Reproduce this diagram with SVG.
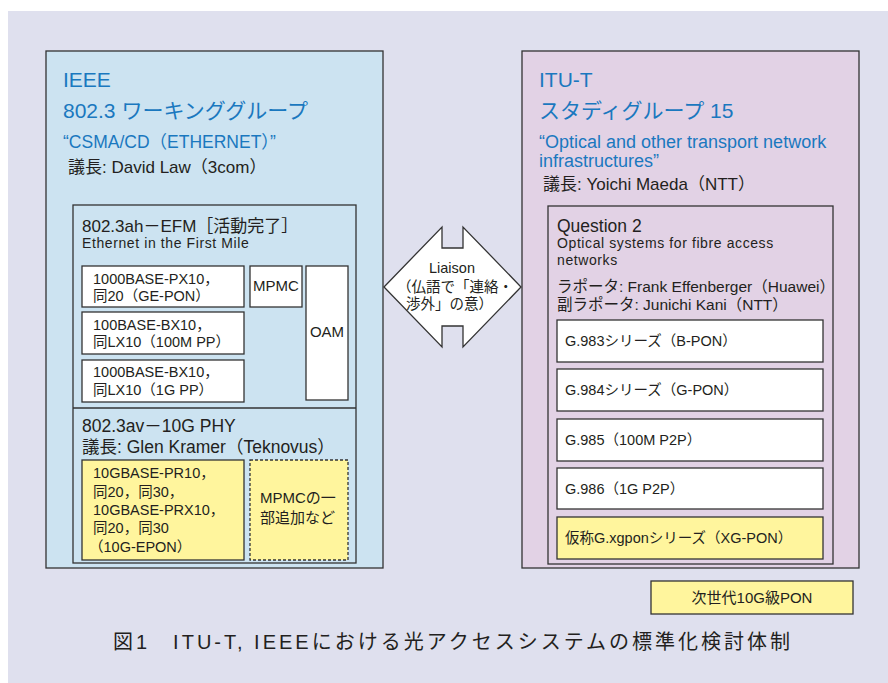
<svg xmlns="http://www.w3.org/2000/svg" width="888" height="683" viewBox="0 0 888 683">
<style>
text{font-family:"Liberation Sans","Noto Sans CJK JP",sans-serif;fill:#231f20}
.blue{fill:#1a78bf}
.box{stroke:#333;stroke-width:1.3}
.white{fill:#fff}
.yel{fill:#fff59d}
.ieee{fill:#cce3f1}
.itu{fill:#e2d2e5}
.t14{font-size:14.5px}
.sm{font-size:14px;letter-spacing:0.6px}
</style>
<rect x="0" y="0" width="888" height="683" fill="#fff"/>
<rect x="8" y="11" width="880" height="672" fill="#dfe0ee"/>

<g id="ieee">
<rect class="box ieee" x="46" y="51" width="337" height="517"/>
<text class="blue" x="63" y="87" font-size="21">IEEE</text>
<text class="blue" x="63" y="118" font-size="21">802.3 ワーキンググループ</text>
<text class="blue" x="63" y="148" font-size="17.5">“CSMA/CD（ETHERNET）”</text>
<text x="68" y="173" font-size="17">議長: David Law（3com）</text>
</g>

<g id="efm">
<rect class="box ieee" x="73" y="205" width="283" height="358"/>
<line class="box" x1="73" y1="408" x2="356" y2="408"/>
<text x="82" y="232" font-size="17">802.3ah－EFM［活動完了］</text>
<text class="sm" x="82" y="248">Ethernet in the First Mile</text>
</g>

<g id="px10">
<rect class="box white" x="82" y="266" width="162" height="41"/>
<text class="t14" x="93" y="284">1000BASE-PX10，</text>
<text class="t14" x="93" y="301">同20（GE-PON）</text>
</g>
<g id="mpmc">
<rect class="box white" x="250" y="266" width="52" height="41"/>
<text x="276" y="291" font-size="15" text-anchor="middle">MPMC</text>
</g>
<g id="oam">
<rect class="box white" x="306" y="266" width="42" height="134"/>
<text x="327" y="337" font-size="15" text-anchor="middle">OAM</text>
</g>
<g id="bx10-100">
<rect class="box white" x="82" y="312" width="162" height="42"/>
<text class="t14" x="93" y="330">100BASE-BX10，</text>
<text class="t14" x="93" y="347">同LX10（100M PP）</text>
</g>
<g id="bx10-1000">
<rect class="box white" x="82" y="360" width="162" height="42"/>
<text class="t14" x="93" y="377">1000BASE-BX10，</text>
<text class="t14" x="93" y="395">同LX10（1G PP）</text>
</g>

<g id="av">
<text x="82" y="432" font-size="17.5">802.3av－10G PHY</text>
<text x="82" y="453" font-size="17.5">議長: Glen Kramer（Teknovus）</text>
</g>
<g id="epon">
<rect class="box yel" x="82" y="460" width="162" height="100"/>
<text class="t14" x="93" y="478">10GBASE-PR10，</text>
<text class="t14" x="93" y="497">同20，同30，</text>
<text class="t14" x="93" y="515">10GBASE-PRX10，</text>
<text class="t14" x="93" y="533">同20，同30</text>
<text class="t14" x="89" y="552">（10G-EPON）</text>
</g>
<g id="mpmc-add">
<rect class="box yel" x="250" y="460" width="98" height="100" stroke-dasharray="3 2"/>
<text x="260" y="503" font-size="15">MPMCの一</text>
<text x="260" y="523" font-size="15">部追加など</text>
</g>

<g id="connectors">
<g id="liaison">
<polygon class="box white" points="384,287 442,227 442,248 463,248 463,227 521,287 463,347 463,326 442,326 442,347"/>
<text x="452" y="273" font-size="14.5" text-anchor="middle">Liaison</text>
<text x="397" y="292" font-size="14.5">（仏語で「連絡・</text>
<text x="406" y="309" font-size="14.5">渉外」の意）</text>
</g>
</g>

<g id="itu">
<rect class="box itu" x="522" y="51" width="337" height="517"/>
<text class="blue" x="539" y="87" font-size="21">ITU-T</text>
<text class="blue" x="539" y="118" font-size="21">スタディグループ 15</text>
<text class="blue" x="539" y="148" font-size="18">“Optical and other transport network</text>
<text class="blue" x="539" y="167" font-size="18">infrastructures”</text>
<text x="543" y="190" font-size="17">議長: Yoichi Maeda（NTT）</text>
</g>

<g id="q2">
<rect class="box itu" x="548" y="206" width="285" height="358"/>
<text x="557" y="232" font-size="17.5">Question 2</text>
<text class="sm" x="557" y="248">Optical systems for fibre access</text>
<text class="sm" x="557" y="265">networks</text>
<text x="557" y="292" font-size="15.5">ラポータ: Frank Effenberger（Huawei）</text>
<text x="557" y="310" font-size="15.5">副ラポータ: Junichi Kani（NTT）</text>
</g>

<g id="g983">
<rect class="box white" x="557" y="320" width="266" height="42"/>
<text class="t14" x="565" y="346">G.983シリーズ（B-PON）</text>
</g>
<g id="g984">
<rect class="box white" x="557" y="369" width="266" height="42"/>
<text class="t14" x="565" y="395">G.984シリーズ（G-PON）</text>
</g>
<g id="g985">
<rect class="box white" x="557" y="419" width="266" height="42"/>
<text class="t14" x="565" y="445">G.985（100M P2P）</text>
</g>
<g id="g986">
<rect class="box white" x="557" y="468" width="266" height="41"/>
<text class="t14" x="565" y="494">G.986（1G P2P）</text>
</g>
<g id="xgpon">
<rect class="box yel" x="557" y="517" width="266" height="42"/>
<text class="t14" x="565" y="543">仮称G.xgponシリーズ（XG-PON）</text>
</g>

<g id="nextgen">
<rect class="box yel" x="651" y="581" width="202" height="33"/>
<text x="752" y="603" font-size="15" text-anchor="middle">次世代10G級PON</text>
</g>

<g id="caption">
<text x="113" y="649" font-size="20" fill="#333" letter-spacing="3">図1　ITU-T, IEEEにおける光アクセスシステムの標準化検討体制</text>
</g>
</svg>
